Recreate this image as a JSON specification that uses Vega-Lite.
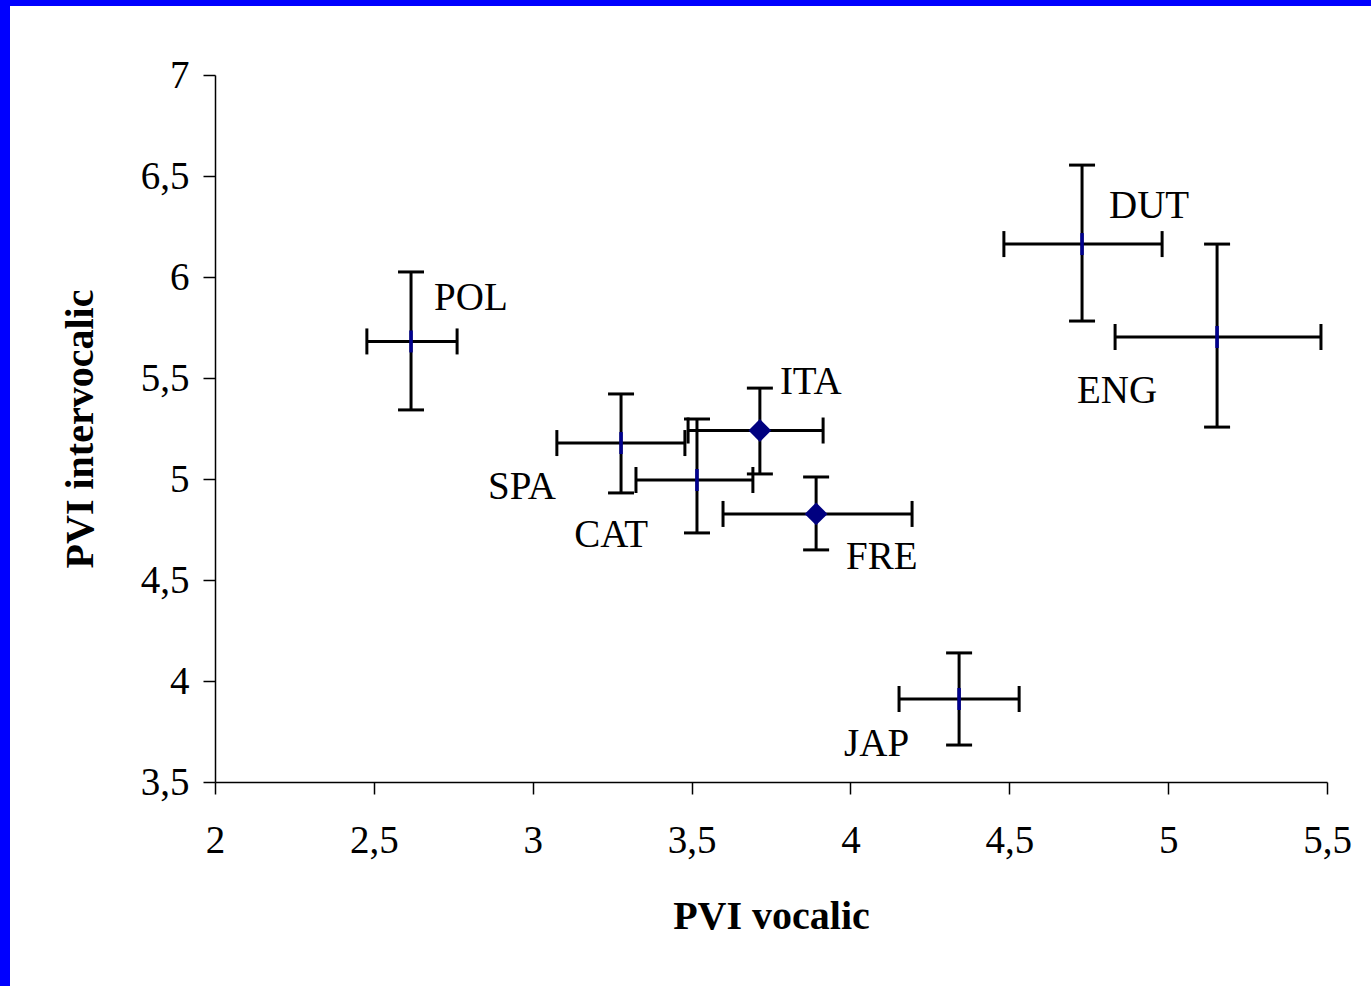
{
  "$schema": "https://vega.github.io/schema/vega-lite/v6.json",
  "width": 1361,
  "height": 980,
  "autosize": "none",
  "padding": {"left": 10, "top": 6, "right": 0, "bottom": 0},
  "background": "#0000ff",
  "config": {
    "locale": {"number": {"decimal": ",", "thousands": ".", "grouping": [3], "currency": ["", " €"]}},
    "font": "Liberation Serif",
    "view": {"fill": "white", "stroke": null}
  },
  "data": {
    "values": [
      {"lang": "POL", "x": 2.617, "xlo": 2.478, "xhi": 2.762, "y": 5.681, "ylo": 5.342, "yhi": 6.025},
      {"lang": "SPA", "x": 3.278, "xlo": 3.076, "xhi": 3.479, "y": 5.178, "ylo": 4.931, "yhi": 5.421},
      {"lang": "CAT", "x": 3.517, "xlo": 3.325, "xhi": 3.693, "y": 4.995, "ylo": 4.733, "yhi": 5.297},
      {"lang": "ITA", "x": 3.715, "xlo": 3.489, "xhi": 3.914, "y": 5.240, "ylo": 5.025, "yhi": 5.450},
      {"lang": "FRE", "x": 3.892, "xlo": 3.599, "xhi": 4.194, "y": 4.827, "ylo": 4.649, "yhi": 5.010},
      {"lang": "JAP", "x": 4.342, "xlo": 4.153, "xhi": 4.531, "y": 3.911, "ylo": 3.683, "yhi": 4.139},
      {"lang": "DUT", "x": 4.729, "xlo": 4.483, "xhi": 4.981, "y": 6.163, "ylo": 5.782, "yhi": 6.554},
      {"lang": "ENG", "x": 5.154, "xlo": 4.833, "xhi": 5.481, "y": 5.703, "ylo": 5.257, "yhi": 6.163}
    ]
  },
  "layer": [
    {
      "mark": {"type": "rule", "color": "black", "strokeWidth": 3},
      "encoding": {
        "x": {
          "field": "xlo", "type": "quantitative",
          "scale": {"domain": [2, 5.5], "range": [205, 1317], "nice": false, "zero": false},
          "axis": {
            "orient": "bottom", "offset": -204, "title": "PVI vocalic",
            "values": [2, 2.5, 3, 3.5, 4, 4.5, 5, 5.5], "format": "~g", "grid": false, "labelFlush": false, "labelOverlap": false,
            "domainColor": "black", "domainWidth": 1.5, "tickColor": "black", "tickWidth": 1.5, "tickSize": 12,
            "labelFont": "Liberation Serif", "labelFontSize": 39, "labelColor": "black", "labelPadding": 27,
            "titleFont": "Liberation Serif", "titleFontSize": 40, "titleFontWeight": "bold", "titleColor": "black", "titlePadding": 36
          }
        },
        "x2": {"field": "xhi"},
        "y": {
          "field": "y", "type": "quantitative",
          "scale": {"domain": [3.5, 7], "range": [776, 69], "nice": false, "zero": false},
          "axis": {
            "orient": "left", "offset": -205, "title": "PVI intervocalic",
            "values": [3.5, 4, 4.5, 5, 5.5, 6, 6.5, 7], "format": "~g", "grid": false, "labelFlush": false, "labelOverlap": false,
            "domainColor": "black", "domainWidth": 1.5, "tickColor": "black", "tickWidth": 1.5, "tickSize": 12,
            "labelFont": "Liberation Serif", "labelFontSize": 39, "labelColor": "black", "labelPadding": 14,
            "titleFont": "Liberation Serif", "titleFontSize": 40, "titleFontWeight": "bold", "titleColor": "black", "titlePadding": 40
          }
        }
      }
    },
    {
      "mark": {"type": "rule", "color": "black", "strokeWidth": 3},
      "encoding": {
        "x": {"field": "x", "type": "quantitative"},
        "y": {"field": "ylo", "type": "quantitative"},
        "y2": {"field": "yhi"}
      }
    },
    {
      "mark": {"type": "tick", "orient": "vertical", "color": "black", "size": 26, "thickness": 3, "opacity": 1},
      "encoding": {"x": {"field": "xlo", "type": "quantitative"}, "y": {"field": "y", "type": "quantitative"}}
    },
    {
      "mark": {"type": "tick", "orient": "vertical", "color": "black", "size": 26, "thickness": 3, "opacity": 1},
      "encoding": {"x": {"field": "xhi", "type": "quantitative"}, "y": {"field": "y", "type": "quantitative"}}
    },
    {
      "mark": {"type": "tick", "orient": "horizontal", "color": "black", "size": 26, "thickness": 3, "opacity": 1},
      "encoding": {"x": {"field": "x", "type": "quantitative"}, "y": {"field": "ylo", "type": "quantitative"}}
    },
    {
      "mark": {"type": "tick", "orient": "horizontal", "color": "black", "size": 26, "thickness": 3, "opacity": 1},
      "encoding": {"x": {"field": "x", "type": "quantitative"}, "y": {"field": "yhi", "type": "quantitative"}}
    },
    {
      "transform": [{"filter": "datum.lang != 'ITA' && datum.lang != 'FRE'"}],
      "mark": {"type": "tick", "orient": "vertical", "color": "#00008f", "size": 22, "thickness": 3.5, "opacity": 1},
      "encoding": {"x": {"field": "x", "type": "quantitative"}, "y": {"field": "y", "type": "quantitative"}}
    },
    {
      "transform": [{"filter": "datum.lang == 'ITA' || datum.lang == 'FRE'"}],
      "mark": {"type": "point", "shape": "diamond", "filled": true, "color": "#000080", "size": 520, "opacity": 1},
      "encoding": {"x": {"field": "x", "type": "quantitative"}, "y": {"field": "y", "type": "quantitative"}}
    },
    {
      "transform": [{"filter": "datum.lang == 'POL'"}],
      "mark": {"type": "text", "align": "left", "baseline": "alphabetic", "dx": 23, "dy": -31, "fontSize": 39, "font": "Liberation Serif", "color": "black"},
      "encoding": {"x": {"field": "x", "type": "quantitative"}, "y": {"field": "y", "type": "quantitative"}, "text": {"field": "lang"}}
    },
    {
      "transform": [{"filter": "datum.lang == 'DUT'"}],
      "mark": {"type": "text", "align": "left", "baseline": "alphabetic", "dx": 27, "dy": -26, "fontSize": 39, "font": "Liberation Serif", "color": "black"},
      "encoding": {"x": {"field": "x", "type": "quantitative"}, "y": {"field": "y", "type": "quantitative"}, "text": {"field": "lang"}}
    },
    {
      "transform": [{"filter": "datum.lang == 'ITA'"}],
      "mark": {"type": "text", "align": "left", "baseline": "alphabetic", "dx": 20, "dy": -37, "fontSize": 39, "font": "Liberation Serif", "color": "black"},
      "encoding": {"x": {"field": "x", "type": "quantitative"}, "y": {"field": "y", "type": "quantitative"}, "text": {"field": "lang"}}
    },
    {
      "transform": [{"filter": "datum.lang == 'FRE'"}],
      "mark": {"type": "text", "align": "left", "baseline": "alphabetic", "dx": 30, "dy": 55, "fontSize": 39, "font": "Liberation Serif", "color": "black"},
      "encoding": {"x": {"field": "x", "type": "quantitative"}, "y": {"field": "y", "type": "quantitative"}, "text": {"field": "lang"}}
    },
    {
      "transform": [{"filter": "datum.lang == 'SPA'"}],
      "mark": {"type": "text", "align": "right", "baseline": "alphabetic", "dx": -65, "dy": 56, "fontSize": 39, "font": "Liberation Serif", "color": "black"},
      "encoding": {"x": {"field": "x", "type": "quantitative"}, "y": {"field": "y", "type": "quantitative"}, "text": {"field": "lang"}}
    },
    {
      "transform": [{"filter": "datum.lang == 'CAT'"}],
      "mark": {"type": "text", "align": "right", "baseline": "alphabetic", "dx": -49, "dy": 67, "fontSize": 39, "font": "Liberation Serif", "color": "black"},
      "encoding": {"x": {"field": "x", "type": "quantitative"}, "y": {"field": "y", "type": "quantitative"}, "text": {"field": "lang"}}
    },
    {
      "transform": [{"filter": "datum.lang == 'ENG'"}],
      "mark": {"type": "text", "align": "right", "baseline": "alphabetic", "dx": -60, "dy": 66, "fontSize": 39, "font": "Liberation Serif", "color": "black"},
      "encoding": {"x": {"field": "x", "type": "quantitative"}, "y": {"field": "y", "type": "quantitative"}, "text": {"field": "lang"}}
    },
    {
      "transform": [{"filter": "datum.lang == 'JAP'"}],
      "mark": {"type": "text", "align": "right", "baseline": "alphabetic", "dx": -50, "dy": 57, "fontSize": 39, "font": "Liberation Serif", "color": "black"},
      "encoding": {"x": {"field": "x", "type": "quantitative"}, "y": {"field": "y", "type": "quantitative"}, "text": {"field": "lang"}}
    }
  ]
}
